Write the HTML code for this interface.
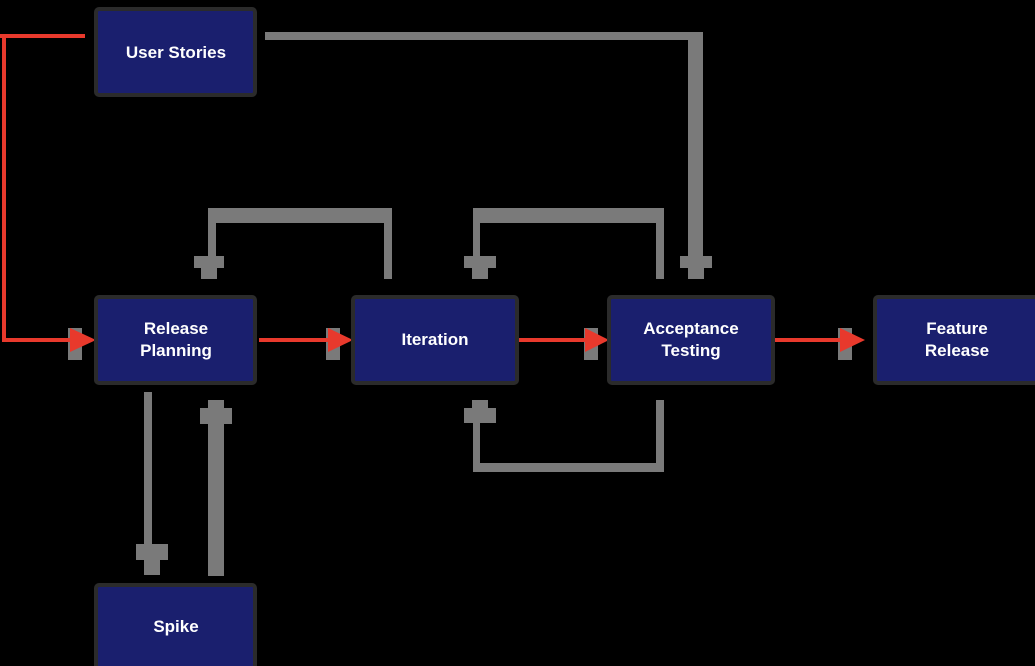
<!DOCTYPE html>
<html><head><style>
html,body{margin:0;padding:0;background:#000;width:1035px;height:666px;overflow:hidden}
svg{display:block}
text{font-family:"Liberation Sans",sans-serif;font-weight:bold;font-size:17px;fill:#fff;text-anchor:middle}
</style></head><body>
<svg width="1035" height="666" viewBox="0 0 1035 666">
<g fill="#7a7a7a">
<!-- user stories to acceptance -->
<rect x="265" y="32" width="438" height="8"/>
<rect x="688" y="32" width="15" height="226"/>
<rect x="680" y="256" width="32" height="12"/><rect x="688" y="268" width="16" height="11"/>
<!-- loop 1 -->
<rect x="208" y="208" width="184" height="15"/>
<rect x="384" y="208" width="8" height="71"/>
<rect x="208" y="208" width="8" height="50"/>
<rect x="194" y="256" width="30" height="12"/><rect x="201" y="268" width="16" height="11"/>
<!-- loop 2 -->
<rect x="473" y="208" width="191" height="15"/>
<rect x="656" y="208" width="8" height="71"/>
<rect x="473" y="208" width="7" height="50"/>
<rect x="464" y="256" width="32" height="12"/><rect x="472" y="268" width="16" height="11"/>
<!-- loop 3 -->
<rect x="656" y="400" width="8" height="72"/>
<rect x="473" y="463" width="191" height="9"/>
<rect x="473" y="415" width="7" height="57"/>
<rect x="472" y="400" width="16" height="10"/><rect x="464" y="408" width="32" height="15"/>
<!-- spike lines -->
<rect x="144" y="392" width="8" height="155"/>
<rect x="136" y="544" width="32" height="16"/><rect x="144" y="560" width="16" height="15"/>
<rect x="208" y="410" width="16" height="166"/>
<rect x="208" y="400" width="16" height="10"/><rect x="200" y="408" width="32" height="16"/>
<!-- grey squares behind red arrowheads -->
<rect x="68" y="328" width="14" height="32"/>
<rect x="326" y="328" width="14" height="32"/>
<rect x="584" y="328" width="14" height="32"/>
<rect x="838" y="328" width="14" height="32"/>
</g>
<g fill="#e8392c">
<rect x="0" y="34" width="85" height="4"/>
<rect x="2" y="34" width="4" height="308"/>
<rect x="2" y="338" width="70" height="4"/>
<polygon points="70,328 96,340 70,352"/>
<rect x="259" y="338" width="70" height="4"/>
<polygon points="328,328 353,340 328,352"/>
<rect x="516" y="338" width="70" height="4"/>
<polygon points="585,328 609,340 585,352"/>
<rect x="773" y="338" width="70" height="4"/>
<polygon points="840,328 865,340 840,352"/>
</g>
<g fill="#1a1f6e" stroke="#2b2b2b" stroke-width="4">
<rect x="96" y="9" width="159" height="86" rx="3"/>
<rect x="96" y="297" width="159" height="86" rx="3"/>
<rect x="353" y="297" width="164" height="86" rx="3"/>
<rect x="609" y="297" width="164" height="86" rx="3"/>
<rect x="875" y="297" width="164" height="86" rx="3"/>
<rect x="96" y="585" width="159" height="86" rx="3"/>
</g>
<text x="176" y="58">User Stories</text>
<text x="176" y="334">Release</text><text x="176" y="356">Planning</text>
<text x="435" y="345">Iteration</text>
<text x="691" y="334">Acceptance</text><text x="691" y="356">Testing</text>
<text x="957" y="334">Feature</text><text x="957" y="356">Release</text>
<text x="176" y="632">Spike</text>
</svg>
</body></html>
